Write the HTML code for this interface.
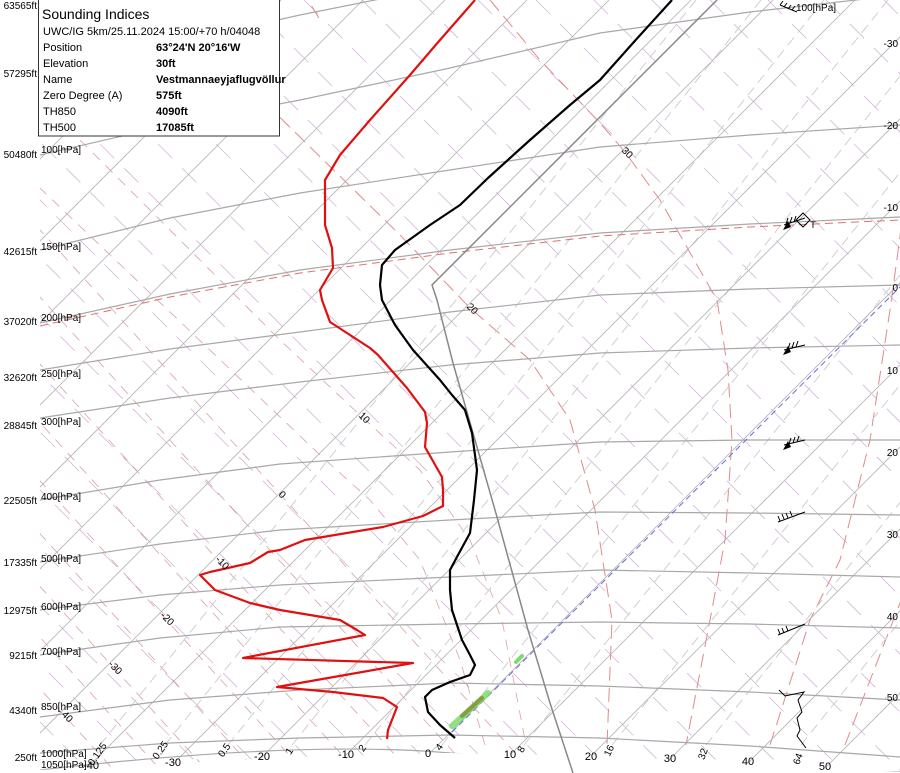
<!DOCTYPE html>
<html><head><meta charset="utf-8">
<style>
html,body{margin:0;padding:0;background:#fff;}
svg{display:block;font-family:"Liberation Sans",sans-serif;}
</style></head>
<body>
<svg width="900" height="773" viewBox="0 0 900 773" xmlns="http://www.w3.org/2000/svg">
<defs><clipPath id="cp"><path d="M40 0H900V772L750 763L600 756L450 753L300 757L40 770Z"/></clipPath></defs>
<g clip-path="url(#cp)" fill="none">
<!-- dry adiabats -->
<path stroke="#d6b4de" stroke-width="0.8" stroke-dasharray="20,14" d="M-740 0l800 800M-682 0l800 800M-624 0l800 800M-566 0l800 800M-508 0l800 800M-450 0l800 800M-392 0l800 800M-334 0l800 800M-276 0l800 800M-218 0l800 800M-160 0l800 800M-102 0l800 800M-44 0l800 800M14 0l800 800M72 0l800 800M130 0l800 800M188 0l800 800M246 0l800 800M304 0l800 800M362 0l800 800M420 0l800 800M478 0l800 800M536 0l800 800M594 0l800 800M652 0l800 800M710 0l800 800M768 0l800 800M826 0l800 800M884 0l800 800"/>
<!-- cold moist adiabats -->
<path stroke="#c06070" stroke-width="0.8" stroke-dasharray="10,8" opacity="0.6" d="M-586 0L141 800M-540 0L188 800M-493 0L234 800M-445 0L282 800M-397 0L330 800M-344 0L383 800M-291 0L436 800M-230 0L497 800M-169 0L558 800"/>
<path stroke="#c06070" stroke-width="0.8" stroke-dasharray="10,8" opacity="0.6" d="M-60 0L0 60L100 160L280 340L362 417L420 470L470 540L502 620L526 745M0 150L320 455L370 500L420 560L460 660L485 745"/>
<!-- warm moist adiabats -->
<path stroke="#e08a8a" stroke-width="1" stroke-dasharray="14,7" d="M160 0L400 235L470 308L530 360L570 420L595 510L612 620L607 745M490 0L540 60L600 123L625 152L660 200L717 300L728 370L732 440L725 540L710 620L686 745M770 745L810 620L840 560L870 440L890 310L905 200M845 745L905 590M290 -30L320 20"/>
<!-- mixing ratio lines -->
<path stroke="#cfcfcf" stroke-width="1" stroke-dasharray="10,6" d="M100 745l596 -745M165 745l596 -745M228 745l596 -745M292 745l596 -745M365 745l596 -745M442 745l596 -745M524 745l596 -745M612 745l596 -745M706 745l596 -745M801 745l596 -745"/>
<!-- isotherms -->
<path stroke="#b4b4b4" stroke-width="0.8" d="M-601 800L199 0M-519 800L281 0M-437 800L363 0M-355 800L445 0M-273 800L527 0M-191 800L609 0M-109 800L691 0M-27 800L773 0M55 800L855 0M137 800L937 0M219 800L1019 0M301 800L1101 0M383 800L1183 0M465 800L1265 0M547 800L1347 0M629 800L1429 0M711 800L1511 0M793 800L1593 0M875 800L1675 0"/>
<!-- isobars -->
<g stroke="#a8a8a8" stroke-width="1.2">
<path d="M40 770Q300 740 450 753T900 772"/>
<path d="M40 753L170 743L300 738L450 735L600 738L750 746L900 757"/>
<path d="M40 717L170 700L300 690L450 683L600 686L750 692L900 700"/>
<path d="M40 655L160 638L280 627L450 624L600 622L750 624L900 628"/>
<path d="M40 610L160 595L280 585L450 577L600 570L750 573L900 577"/>
<path d="M40 562L160 544L280 530L450 520L600 512L750 513L900 515"/>
<path d="M40 500L160 480L280 464L450 452L600 442L750 440L900 440"/>
<path d="M40 418L170 398L300 382L450 365L600 353L750 348L900 345"/>
<path d="M40 370L170 349L300 332L450 312L600 295L750 289L900 285"/>
<path d="M40 323L170 294L300 270L450 250L600 233L750 224L900 217"/>
<path d="M40 250L170 218L300 193L450 170L600 147L750 135L900 125"/>
<path d="M40 155L170 125L300 100L450 68L600 33L750 12L900 -5"/>
<path d="M40 73L300 15L450 -15"/>
</g>
<path stroke="#e07070" stroke-width="1" stroke-dasharray="8,5" d="M40 326L170 297L300 273L450 253L600 236L750 227L900 220"/>
</g>
<line x1="452" y1="732" x2="900" y2="287" stroke="#6a6ae0" stroke-width="1" stroke-dasharray="6,4"/>
<line x1="452" y1="726" x2="488" y2="693" stroke="#7ddc6a" stroke-width="6" stroke-linecap="round" opacity="0.85"/>
<line x1="462" y1="716" x2="482" y2="698" stroke="#8a8a30" stroke-width="4" stroke-linecap="round" opacity="0.8"/>
<line x1="516" y1="662" x2="522" y2="656" stroke="#7ddc6a" stroke-width="4" stroke-linecap="round"/>
<polyline fill="none" stroke="#888" stroke-width="1.5" points="717,0 432,285 437,300 453,363 475,440 497,517 528,630 550,703 573,773"/>
<polyline fill="none" stroke="#000" stroke-width="2.2" stroke-linejoin="round" points="455,738 440,725 428,712 425,697 432,690 450,682 470,675 475,665 470,655 462,640 458,628 452,610 450,590 450,570 458,555 470,533 474,500 477,470 472,433 465,410 452,395 440,380 413,350 395,325 382,300 380,285 382,265 395,250 430,225 460,205 488,178 530,140 570,105 600,80 633,43 672,0"/>
<polyline fill="none" stroke="#e01010" stroke-width="2.2" stroke-linejoin="round" points="387,739 388,730 397,707 383,698 333,692 277,687 413,663 243,658 365,635 357,630 340,620 280,610 250,603 215,590 200,575 210,572 250,563 268,552 280,550 305,540 383,527 423,516 443,506 443,490 442,477 425,447 427,423 425,412 407,388 378,355 370,348 350,335 330,322 322,300 320,290 333,268 332,248 325,225 325,180 340,155 370,120 410,75 440,40 475,0"/>
<g stroke="#000" stroke-width="1" fill="none">
<path d="M780 5 L797 12 M780 5 l3 -4 M784 7 l3 -4 M788 9 l3 -4 M792 10 l3 -4"/>
<path d="M784 225 L805 218 M786 224 l2 -6 M790 223 l2 -6 M794 222 l2 -6"/>
<path d="M803 213 l7 7 l-7 7 l-7 -7z"/>
<path d="M784 350 L805 345 M788 349 l2 -6 M792 348 l2 -6 M796 347 l2 -6"/>
<path d="M784 445 L805 440 M789 444 l2 -6 M793 443 l2 -6 M797 442 l2 -6"/>
<path d="M778 522 L805 512 M780 521 l-2 -5 M784 519 l-2 -5 M788 518 l-2 -5 M792 516 l-2 -5"/>
<path d="M778 635 L805 624 M780 634 l-2 -5 M784 633 l-2 -5 M788 631 l-2 -5"/>
<path d="M779 690 L785 696 L804 692 L798 700 L802 712 L797 718 L800 730 L797 736 L806 748"/>
</g>
<g fill="#000">
<path d="M783 230 l8 -3 l-3 -6z M783 355 l8 -3 l-3 -6z M783 450 l8 -3 l-3 -6z"/>
</g>
<text x="813" y="228" font-size="9" text-anchor="middle">T</text>
<g font-size="10" fill="#000">
<g text-anchor="end">
<text x="37" y="9">63565ft</text><text x="37" y="77">57295ft</text><text x="37" y="158">50480ft</text>
<text x="37" y="255">42615ft</text><text x="37" y="325">37020ft</text><text x="37" y="381">32620ft</text>
<text x="37" y="429">28845ft</text><text x="37" y="504">22505ft</text><text x="37" y="566">17335ft</text>
<text x="37" y="614">12975ft</text><text x="37" y="659">9215ft</text><text x="37" y="714">4340ft</text>
<text x="37" y="761">250ft</text>
</g>
<text x="41" y="153">100[hPa]</text><text x="41" y="250">150[hPa]</text><text x="41" y="321">200[hPa]</text>
<text x="41" y="377">250[hPa]</text><text x="41" y="425">300[hPa]</text><text x="41" y="500">400[hPa]</text>
<text x="41" y="562">500[hPa]</text><text x="41" y="610">600[hPa]</text><text x="41" y="655">700[hPa]</text>
<text x="41" y="710">850[hPa]</text><text x="41" y="757">1000[hPa]</text><text x="41" y="768">1050[hPa]</text>
<text x="240" y="10">50[hPa]</text>
<text x="796" y="11">100[hPa]</text>
</g>
<g font-size="10" text-anchor="end">
<text x="898" y="47">-30</text><text x="898" y="129">-20</text><text x="898" y="211">-10</text>
<text x="898" y="291">0</text><text x="898" y="374">10</text><text x="898" y="456">20</text>
<text x="898" y="538">30</text><text x="898" y="620">40</text><text x="898" y="701">50</text>
</g>
<g font-size="11" text-anchor="middle">
<text x="173" y="766">-30</text><text x="262" y="760">-20</text><text x="346" y="758">-10</text>
<text x="428" y="757">0</text><text x="510" y="758">10</text><text x="591" y="760">20</text>
<text x="670" y="762">30</text><text x="748" y="765">40</text><text x="825" y="770">50</text>
<text x="91" y="769">-40</text>
</g>
<g font-size="10" text-anchor="middle">
<text transform="translate(100,756) rotate(-55)">0.125</text>
<text transform="translate(163,752) rotate(-55)">0.25</text>
<text transform="translate(227,752) rotate(-55)">0.5</text>
<text transform="translate(292,753) rotate(-55)">1</text>
<text transform="translate(365,750) rotate(-55)">2</text>
<text transform="translate(442,749) rotate(-55)">4</text>
<text transform="translate(524,751) rotate(-60)">8</text>
<text transform="translate(612,752) rotate(-65)">16</text>
<text transform="translate(706,755) rotate(-70)">32</text>
<text transform="translate(801,760) rotate(-70)">64</text>
</g>
<g font-size="10" text-anchor="middle">
<text transform="translate(625,155) rotate(45)">30</text>
<text transform="translate(470,311) rotate(45)">20</text>
<text transform="translate(362,420) rotate(45)">10</text>
<text transform="translate(280,497) rotate(45)">0</text>
<text transform="translate(220,565) rotate(45)">-10</text>
<text transform="translate(165,621) rotate(45)">-20</text>
<text transform="translate(113,670) rotate(45)">-30</text>
<text transform="translate(65,719) rotate(45)">40</text>
</g>
<rect x="38.5" y="-1" width="241" height="137" fill="#fff" stroke="#333" stroke-width="1"/>
<g font-size="11" fill="#000">
<text x="42" y="19" font-size="14">Sounding Indices</text>
<text x="43" y="35">UWC/IG 5km/25.11.2024 15:00/+70 h/04048</text>
<text x="43" y="51">Position</text><text x="156" y="51" font-weight="bold">63°24'N 20°16'W</text>
<text x="43" y="67">Elevation</text><text x="156" y="67" font-weight="bold">30ft</text>
<text x="43" y="83">Name</text><text x="156" y="83" font-weight="bold">Vestmannaeyjaflugvöllur</text>
<text x="43" y="99">Zero Degree (A)</text><text x="156" y="99" font-weight="bold">575ft</text>
<text x="43" y="115">TH850</text><text x="156" y="115" font-weight="bold">4090ft</text>
<text x="43" y="131">TH500</text><text x="156" y="131" font-weight="bold">17085ft</text>
</g>
</svg>
</body></html>
